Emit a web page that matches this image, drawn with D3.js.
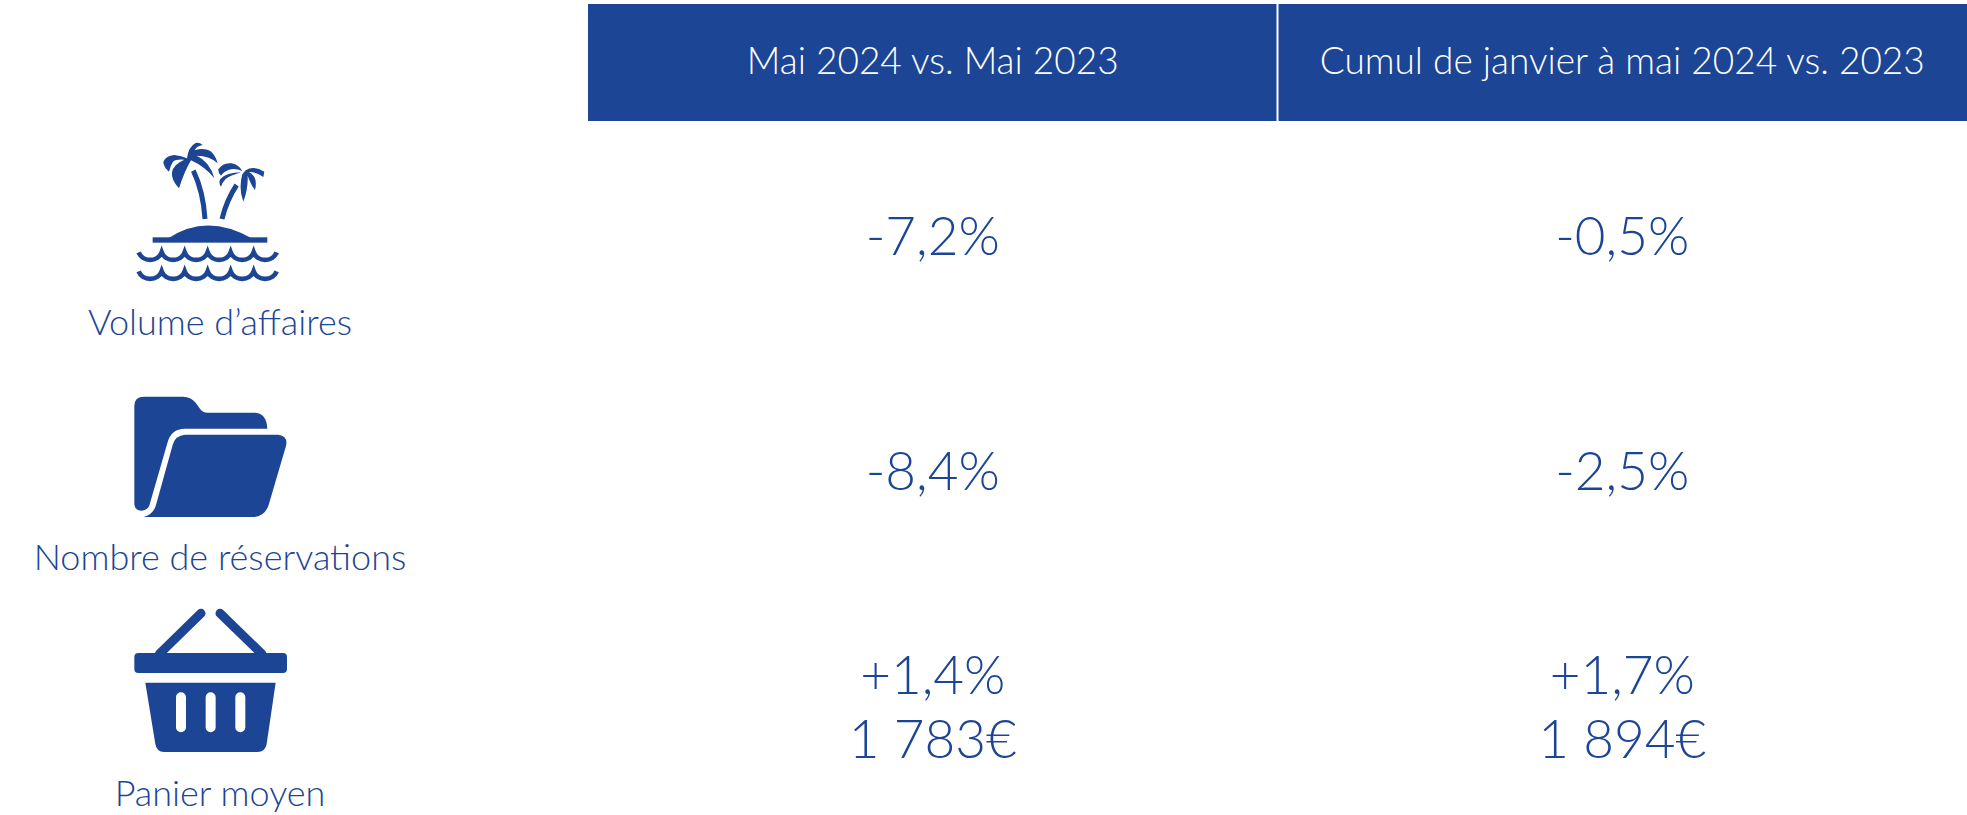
<!DOCTYPE html>
<html>
<head>
<meta charset="utf-8">
<script src="https://cdnjs.cloudflare.com/ajax/libs/d3/7.8.5/d3.min.js"></script>
<style>
    html, body { margin: 0; background: #fff; overflow: hidden; }
    text { font-family: "Lato", sans-serif; font-weight: 300; }
</style>
</head>
<body>
<div id="plot"></div>
<script>
// Table content.
const columns = ["Mai 2024 vs. Mai 2023", "Cumul de janvier à mai 2024 vs. 2023"];
const rows = ["Volume d’affaires", "Nombre de réservations", "Panier moyen"];
const col_1_values = [["-7,2%"], ["-8,4%"], ["+1,4%", "1 783€"]];
const col_2_values = [["-0,5%"], ["-2,5%"], ["+1,7%", "1 894€"]];

const width = 1967, height = 815;
const blue = "#1c4595";

const svg = d3.select("div#plot").append("svg")
    .attr("width", width)
    .attr("height", height)
    .attr("viewBox", "0 0 " + width + " " + height);

// Header band.
const x = d3.scaleBand().domain(columns).range([588, 1967]);
const header = svg.append("g").attr("id", "header");

header.selectAll("rect")
    .data(columns)
    .join("rect")
        .attr("x", d => x(d))
        .attr("y", 4)
        .attr("width", x.bandwidth())
        .attr("height", 117)
        .style("fill", blue);

header.append("line")
    .attr("x1", x(columns[1])).attr("x2", x(columns[1]))
    .attr("y1", 4).attr("y2", 121)
    .style("stroke", "#fff")
    .style("stroke-width", 2);

header.selectAll("text")
    .data(columns)
    .join("text")
        .attr("x", d => x(d) + x.bandwidth() / 2)
        .attr("y", 74)
        .attr("text-anchor", "middle")
        .style("font-size", "37px")
        .style("fill", "#fff")
        .text(d => d);

// Baselines of the first line of each row, second line sits 64px lower.
const row_y = d3.scaleOrdinal().domain(rows).range([255, 490, 694]);
const label_y = d3.scaleOrdinal().domain(rows).range([335, 570, 806]);

[col_1_values, col_2_values].forEach(function(values, c) {
    const g = svg.append("g").attr("class", "values");
    rows.forEach(function(r, i) {
        g.selectAll("text.r" + i)
            .data(values[i])
            .join("text")
                .attr("class", "r" + i)
                .attr("x", x(columns[c]) + x.bandwidth() / 2)
                .attr("y", (d, k) => row_y(r) + k * 64)
                .attr("text-anchor", "middle")
                .style("font-size", "53px")
                .style("fill", blue)
                .text(d => d);
    });
});

// Row labels.
svg.append("g").attr("id", "labels")
    .selectAll("text")
    .data(rows)
    .join("text")
        .attr("x", 220)
        .attr("y", d => label_y(d))
        .attr("text-anchor", "middle")
        .style("font-size", "36px")
        .style("fill", blue)
        .text(d => d);

/* -------------------------------------------------------------------------
 * Icons, traced at 3x from the picture
 * ---------------------------------------------------------------------- */

const island = svg.append("g").attr("transform", "translate(155,135) scale(0.3333)");

island.append("path")
    .style("fill", blue)
    .attr("d", "M96,70 Q100,35 122,24 Q134,22 143,30 Q125,33 119,46 Q145,38 165,47 Q182,60 188,85 Q165,62 125,62 "
        + "Q165,80 178,130 Q150,95 108,76 Q88,110 72,160 Q48,135 51,112 Q55,88 88,74 Q62,72 54,80 Q46,92 42,110 Q25,95 25,80 "
        + "Q33,62 58,60 Q80,62 96,70 Z");
island.append("path")
    .style("fill", blue)
    .attr("d", "M262,108 Q240,98 222,104 Q205,110 198,122 Q189,115 190,103 Q205,81 230,85 Q252,90 262,108 Z "
        + "M258,112 Q225,122 212,132 Q202,142 198,155 Q190,145 196,132 Q215,112 258,112 Z "
        + "M272,106 Q296,90 328,110 L325,126 Q305,110 282,111 Q310,126 300,165 Q288,150 278,122 Q280,160 265,200 Q250,160 262,118 Z");
island.append("path")
    .style("fill", "none").style("stroke", blue).style("stroke-width", 15)
    .attr("d", "M115,107 Q145,170 150,252 M245,150 Q215,195 201,252");

const sea = svg.append("g").attr("transform", "translate(100,120) scale(0.3333)");
sea.append("path")
    .style("fill", blue)
    .attr("d", "M205,355 Q320,278 455,355 Z");
sea.append("rect")
    .attr("x", 158).attr("y", 352).attr("width", 344).attr("height", 16)
    .style("fill", blue);
[397, 454].forEach(function(y) {
    sea.append("path")
        .style("fill", "none").style("stroke", blue).style("stroke-width", 14)
        .attr("d", "M116," + y + d3.range(6).map(() => " a36.5,34 0 0 0 69,0").join(""))
        .attr("transform", "translate(0,0)");
});

const folder = svg.append("g").attr("transform", "translate(100,380) scale(0.3333)");
folder.append("path")
    .style("fill", blue)
    .attr("d", "M103,78 Q103,50 132,50 L250,50 Q272,50 287,68 L300,86 Q308,98 322,98 L462,98 Q500,98 502,146 "
        + "L255,146 Q212,146 202,190 L150,370 Q146,390 126,392 Q104,392 103,372 Z");
folder.append("path")
    .style("fill", blue)
    .attr("d", "M255,164 L535,164 Q565,168 558,198 L506,375 Q494,410 460,411 L130,411 Q160,404 168,375 L218,195 Q226,166 255,164 Z");

const basket = svg.append("g").attr("transform", "translate(100,590) scale(0.3333)");
basket.append("path")
    .style("fill", "none").style("stroke", blue).style("stroke-width", 27).style("stroke-linecap", "round")
    .attr("d", "M303,70 L178,192 M360,70 L486,192");
basket.append("rect")
    .attr("x", 103).attr("y", 189).attr("width", 458).attr("height", 60).attr("rx", 12)
    .style("fill", blue);
basket.append("path")
    .style("fill", blue)
    .attr("fill-rule", "evenodd")
    .attr("d", "M136,278 L527,278 L500,462 Q496,486 472,486 L192,486 Q170,486 166,462 Z "
        + "M228,322 a15,15 0 0 1 30,0 L258,412 a15,15 0 0 1 -30,0 Z "
        + "M317,322 a15,15 0 0 1 30,0 L347,412 a15,15 0 0 1 -30,0 Z "
        + "M406,322 a15,15 0 0 1 30,0 L436,412 a15,15 0 0 1 -30,0 Z");
</script>
</body>
</html>
